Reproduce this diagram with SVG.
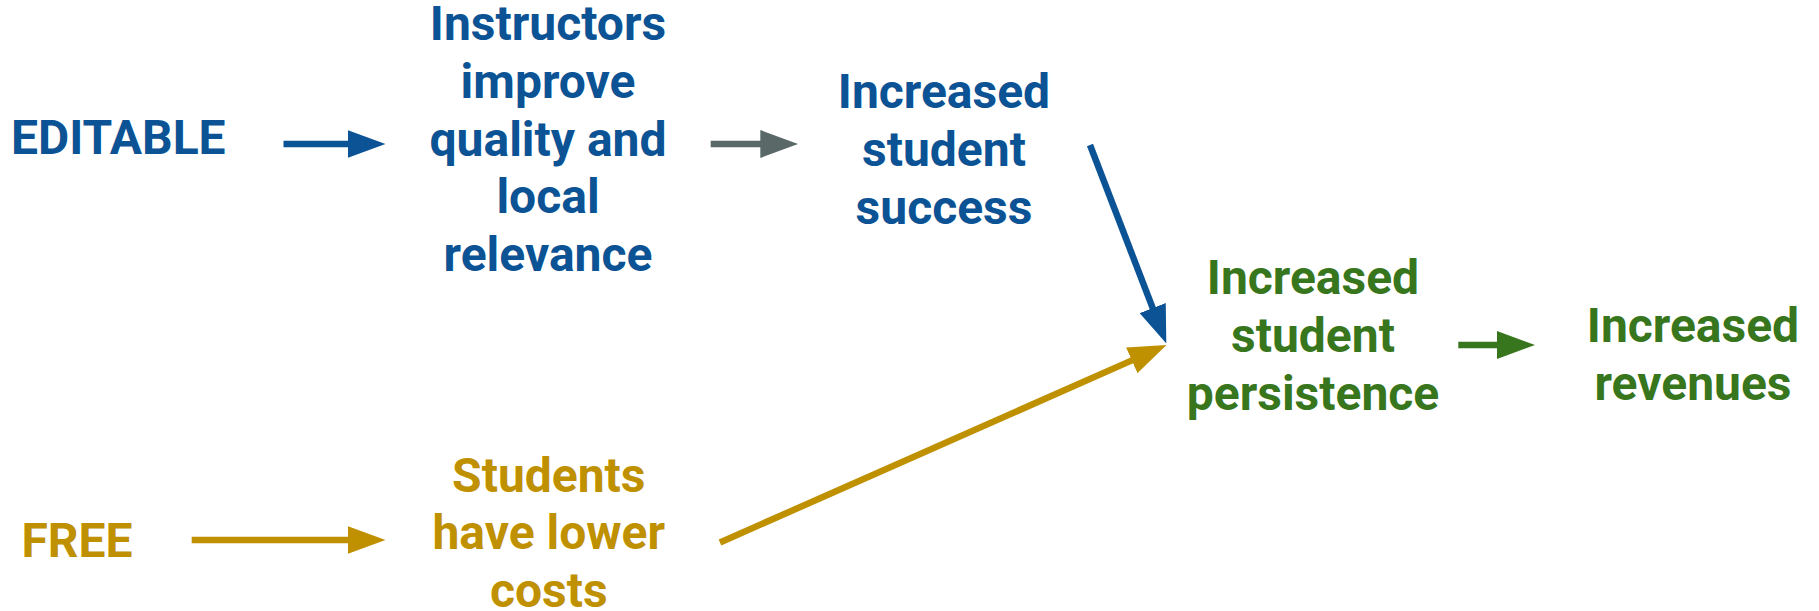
<svg xmlns="http://www.w3.org/2000/svg" width="1819" height="611" viewBox="0 0 1819 611">
  <style>
    text { font-family: Roboto, "Liberation Sans", sans-serif; font-weight: 700; font-size: 48px; text-anchor: middle; }
    .blue { fill: #0b5394; }
    .gold { fill: #bf9000; }
    .green { fill: #38761d; }
    .link { fill: none; stroke-width: 6.5; stroke-linecap: butt; }
  </style>
  <defs>
    <marker id="head-blue" markerUnits="userSpaceOnUse" markerWidth="38" markerHeight="28" viewBox="0 0 38 28" refX="2" refY="14" orient="auto">
      <path d="M0,0 L38,14 L0,28 Z" fill="#0b5394"/>
    </marker>
    <marker id="head-gray" markerUnits="userSpaceOnUse" markerWidth="38" markerHeight="28" viewBox="0 0 38 28" refX="2" refY="14" orient="auto">
      <path d="M0,0 L38,14 L0,28 Z" fill="#5b6868"/>
    </marker>
    <marker id="head-gold" markerUnits="userSpaceOnUse" markerWidth="38" markerHeight="28" viewBox="0 0 38 28" refX="2" refY="14" orient="auto">
      <path d="M0,0 L38,14 L0,28 Z" fill="#bf9000"/>
    </marker>
    <marker id="head-green" markerUnits="userSpaceOnUse" markerWidth="38" markerHeight="28" viewBox="0 0 38 28" refX="2" refY="14" orient="auto">
      <path d="M0,0 L38,14 L0,28 Z" fill="#38761d"/>
    </marker>
  </defs>
  <rect width="1819" height="611" fill="#ffffff"/>

  <g id="connectors">
    <line class="link" x1="283.5" y1="144" x2="349.5" y2="144" stroke="#0b5394" marker-end="url(#head-blue)"/>
    <line class="link" x1="710.7" y1="144" x2="762.3" y2="144" stroke="#5b6868" marker-end="url(#head-gray)"/>
    <line class="link" x1="1090" y1="145" x2="1153.4" y2="309.9" stroke="#0b5394" marker-end="url(#head-blue)"/>
    <line class="link" x1="191.7" y1="540" x2="349.5" y2="540" stroke="#bf9000" marker-end="url(#head-gold)"/>
    <line class="link" x1="720" y1="542.5" x2="1133.6" y2="359.6" stroke="#bf9000" marker-end="url(#head-gold)"/>
    <line class="link" x1="1458.3" y1="345" x2="1499" y2="345" stroke="#38761d" marker-end="url(#head-green)"/>
  </g>

  <g id="editable">
    <text class="blue" x="118.3" y="154">EDITABLE</text>
  </g>

  <g id="instructors-improve">
    <text class="blue" x="548" y="40">Instructors</text>
    <text class="blue" x="548" y="97.8">improve</text>
    <text class="blue" x="548" y="155.5">quality and</text>
    <text class="blue" x="548" y="213.3">local</text>
    <text class="blue" x="548" y="271">relevance</text>
  </g>

  <g id="student-success">
    <text class="blue" x="944" y="108.3">Increased</text>
    <text class="blue" x="944" y="166">student</text>
    <text class="blue" x="944" y="223.7">success</text>
  </g>

  <g id="student-persistence">
    <text class="green" x="1313" y="294.3">Increased</text>
    <text class="green" x="1313" y="352">student</text>
    <text class="green" x="1313" y="409.7">persistence</text>
  </g>

  <g id="revenues">
    <text class="green" x="1693" y="342.3">Increased</text>
    <text class="green" x="1693" y="400">revenues</text>
  </g>

  <g id="free">
    <text class="gold" x="77" y="556.7">FREE</text>
  </g>

  <g id="lower-costs">
    <text class="gold" x="548.8" y="491.7">Students</text>
    <text class="gold" x="548.8" y="549.3">have lower</text>
    <text class="gold" x="548.8" y="606.7">costs</text>
  </g>
</svg>
